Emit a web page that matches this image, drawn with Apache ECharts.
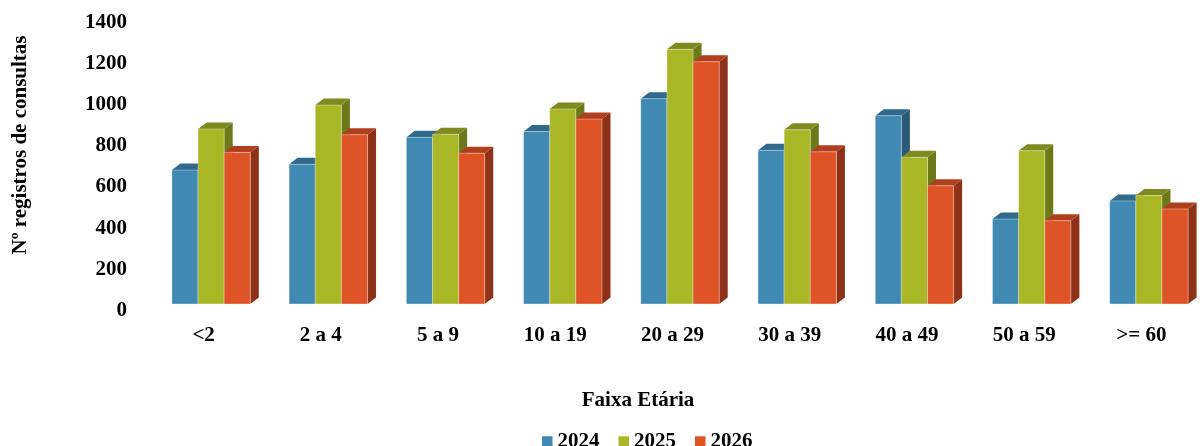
<!DOCTYPE html>
<html>
<head>
<meta charset="utf-8">
<script src="https://cdn.jsdelivr.net/npm/echarts@6/dist/echarts.min.js"></script>
<style>html,body{margin:0;padding:0;background:#fff}#c{width:1200px;height:446px}</style>
</head>
<body>
<div id="c"></div>
<script>
const categories = ['<2', '2 a 4', '5 a 9', '10 a 19', '20 a 29', '30 a 39', '40 a 49', '50 a 59', '>= 60'];
const seriesNames = ['2024', '2025', '2026'];
const v2024 = [651, 679, 810, 838, 998, 747, 915, 413, 501];
const v2025 = [851, 967, 825, 948, 1238, 847, 713, 745, 527];
const v2026 = [737, 823, 733, 899, 1178, 740, 575, 405, 462];
const yTicks = [0, 200, 400, 600, 800, 1000, 1200, 1400];

const FONT = 'Liberation Serif';
const faces = [
  { front: '#3F89B3', top: '#2F6A8C', side: '#2A5A78' },
  { front: '#A9B727', top: '#7E8A1F', side: '#6D7919' },
  { front: '#DF5426', top: '#B03F1D', side: '#8D3219' }
];
const allValues = [v2024, v2025, v2026];

function makeRender(s) {
  return function (params, api) {
    const i = api.value(0), v = api.value(1);
    const base = api.coord([i, 0]);
    const top = api.coord([i, v]);
    const band = api.size([1, 0])[0];
    const w = band * 0.223;
    const setX = 7.5, setY = -6.5;   // bars set back from front floor edge
    const dx = 8.5, dy = -6.5;        // bar depth
    const x0 = base[0] + setX - 1.5 * w + s * w;
    const yT = top[1] + setY, yB = base[1] + setY;
    const f = faces[s];
    return {
      type: 'group',
      children: [
        { type: 'polygon', shape: { points: [[x0 + w, yT], [x0 + w + dx, yT + dy], [x0 + w + dx, yB + dy], [x0 + w, yB]] },
          style: { fill: f.side } },
        { type: 'polygon', shape: { points: [[x0, yT], [x0 + dx, yT + dy], [x0 + w + dx, yT + dy], [x0 + w, yT]] },
          style: { fill: f.top } },
        { type: 'rect', shape: { x: x0, y: yT, width: w, height: yB - yT },
          style: { fill: f.front, stroke: 'rgba(255,255,255,0.35)', lineWidth: 1 } }
      ]
    };
  };
}

const chart = echarts.init(document.getElementById('c'), null, { renderer: 'canvas' });
chart.setOption({
  animation: false,
  backgroundColor: '#fff',
  grid: { left: 145, top: 22.5, width: 1061, height: 288 },
  xAxis: {
    type: 'category', data: categories,
    axisLine: { show: false }, axisTick: { show: false },
    axisLabel: { margin: 15, color: '#000', fontFamily: FONT, fontWeight: 'bold', fontSize: 21, interval: 0 }
  },
  yAxis: {
    type: 'value', min: yTicks[0], max: yTicks[yTicks.length - 1], interval: 200,
    axisLine: { show: false }, axisTick: { show: false }, splitLine: { show: false },
    axisLabel: { margin: 18, color: '#000', fontFamily: FONT, fontWeight: 'bold', fontSize: 21,
      formatter: function (v) { return String(v); } }
  },
  legend: {
    left: 537, top: 426,
    itemWidth: 10.5, itemHeight: 10.5, itemGap: 19,
    icon: 'rect',
    textStyle: { color: '#000', fontFamily: FONT, fontWeight: 'bold', fontSize: 21 },
    data: seriesNames
  },
  graphic: [
    { type: 'text', x: 21, y: 145, rotation: Math.PI / 2,
      style: { text: 'Nº registros de consultas', fill: '#000', font: 'bold 21px "Liberation Serif"', align: 'center', verticalAlign: 'middle' } },
    { type: 'text', x: 638, y: 401,
      style: { text: 'Faixa Etária', fill: '#000', font: 'bold 21px "Liberation Serif"', align: 'center', verticalAlign: 'middle' } }
  ],
  series: seriesNames.map((name, s) => ({
    type: 'custom', name: name,
    itemStyle: { color: faces[s].front },
    renderItem: makeRender(s),
    encode: { x: 0, y: 1 },
    data: allValues[s].map((v, i) => [i, v])
  }))
});
</script>
</body>
</html>
